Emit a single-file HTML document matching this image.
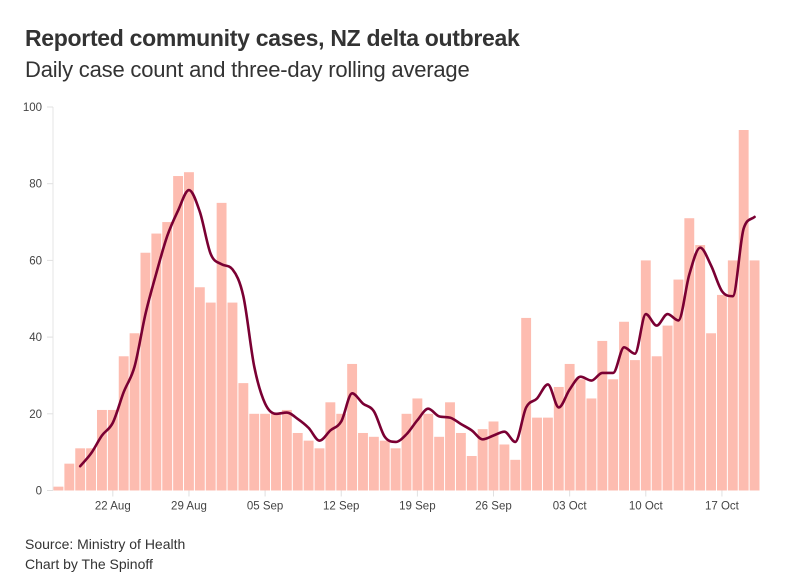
<!DOCTYPE html>
<html><head><meta charset="utf-8"><style>
body{margin:0;background:#fff;font-family:"Liberation Sans",sans-serif;color:#333;}
#wrap{position:relative;width:796px;height:575px;overflow:hidden;}
.t{position:absolute;left:25px;white-space:nowrap;}
</style></head><body>
<div id="wrap">
<div class="t" style="top:25px;font-size:23px;font-weight:bold;letter-spacing:-0.3px;color:#333">Reported community cases, NZ delta outbreak</div>
<div class="t" style="top:57px;font-size:22px;color:#333;letter-spacing:-0.2px">Daily case count and three-day rolling average</div>
<svg id="chart" width="796" height="575" style="position:absolute;left:0;top:0"></svg>
<div class="t" style="top:536px;font-size:14px">Source: Ministry of Health</div>
<div class="t" style="top:556px;font-size:14px">Chart by The Spinoff</div>
</div>
<script>
const dailyCases = [1,7,11,11,21,21,35,41,62,67,70,82,83,53,49,75,49,28,20,20,20,21,15,13,11,23,20,33,15,14,13,11,20,24,20,14,23,15,9,16,18,12,8,45,19,19,27,33,29,24,39,29,44,34,60,35,43,55,71,64,41,51,60,94,60];
const yTicks = [0,20,40,60,80,100];
const xTickLabels = ["22 Aug","29 Aug","05 Sep","12 Sep","19 Sep","26 Sep","03 Oct","10 Oct","17 Oct"];
const xTickIndex = [5,12,19,26,33,40,47,54,61];

const NS="http://www.w3.org/2000/svg";
const svg=document.getElementById('chart');
const X0=53,X1=760,Y0=490.5,Y1=107;
const n=dailyCases.length;
const bw=(X1-X0)/n;
const x=i=>X0+i*bw;
const xc=i=>X0+(i+0.5)*bw;
const y=v=>Y0-(v/100)*(Y0-Y1);
function mk(tag,attrs){const e=document.createElementNS(NS,tag);for(const k in attrs)e.setAttribute(k,attrs[k]);svg.appendChild(e);return e;}
let ax=mk('line',{x1:X0,x2:X0,y1:Y1,y2:Y0,stroke:'#e6e6e6','stroke-width':1});


yTicks.forEach(v=>{
  const tk=mk('line',{x1:X0-6,x2:X0,y1:y(v),y2:y(v),stroke:'#e0e0e0'});
  
  
  const t=mk('text',{x:X0-11,y:y(v)+4,'text-anchor':'end','font-size':11.5,fill:'#444','font-family':'Liberation Sans, sans-serif'});
  t.textContent=v;
  
  
});
dailyCases.forEach((v,i)=>{
  const r=mk('rect',{x:x(i)+0.5,y:y(v),width:bw-1,height:Y0-y(v),fill:'#fdbcb0'});
  
  
});
xTickIndex.forEach((idx,k)=>{
  const tk=mk('line',{x1:xc(idx),x2:xc(idx),y1:Y0,y2:Y0+6,stroke:'#e0e0e0'});
  
  
  const t=mk('text',{x:xc(idx),y:Y0+19,'text-anchor':'middle','font-size':11.5,fill:'#444','font-family':'Liberation Sans, sans-serif'});
  t.textContent=xTickLabels[k];
  
  
});
const pts=[];
for(let i=2;i<dailyCases.length;i++){const a=(dailyCases[i]+dailyCases[i-1]+dailyCases[i-2])/3;pts.push([xc(i),y(a)]);}
function monotone(p){
  const m=p.length,d=[],s=[];
  for(let i=0;i<m-1;i++)d.push((p[i+1][1]-p[i][1])/(p[i+1][0]-p[i][0]));
  for(let i=0;i<m;i++){
    if(i===0)s.push(d[0]);else if(i===m-1)s.push(d[m-2]);
    else s.push(d[i-1]*d[i]<=0?0:(d[i-1]+d[i])/2);
  }
  for(let i=0;i<m-1;i++){if(d[i]!==0){const a=s[i]/d[i],b=s[i+1]/d[i];const h=a*a+b*b;if(h>9){const t=3/Math.sqrt(h);s[i]=t*a*d[i];s[i+1]=t*b*d[i];}}}
  let str='M'+p[0][0]+','+p[0][1];
  for(let i=0;i<m-1;i++){const h=(p[i+1][0]-p[i][0])/3;
    str+=' C'+(p[i][0]+h)+','+(p[i][1]+s[i]*h)+' '+(p[i+1][0]-h)+','+(p[i+1][1]-s[i+1]*h)+' '+p[i+1][0]+','+p[i+1][1];}
  return str;
}
const ln=mk('path',{d:monotone(pts),fill:'none',stroke:'#7a0033','stroke-width':2.6,'stroke-linecap':'round'});


</script>
</body></html>
